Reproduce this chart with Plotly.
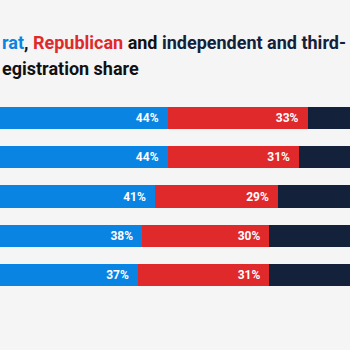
import plotly.graph_objects as go

rows = ["2020", "2016", "2012", "2008", "2004"]
dem = [44, 44, 41, 38, 37]
rep = [33, 31, 29, 30, 31]
ind = [23, 25, 30, 32, 32]

BLUE = "#0a84e3"
RED = "#e0292b"
NAVY = "#13213a"
BG = "#f5f5f5"

fig = go.Figure()
for name, vals, col, labelled in [("Democrat", dem, BLUE, True), ("Republican", rep, RED, True),
                                  ("Independent and third-party", ind, NAVY, False)]:
    fig.add_trace(go.Bar(
        y=rows, x=vals, orientation="h", name=name,
        marker=dict(color=col, line=dict(width=0)),
        width=0.56, hoverinfo="skip",
        text=[f"<b>{v}%</b>\u2002" for v in vals] if labelled else None,
        textposition="inside" if labelled else "none",
        insidetextanchor="end", textangle=0,
        constraintext="none",
        insidetextfont=dict(family="Roboto", size=12, color="white"),
    ))

title1 = (f"<span style='color:{BLUE}'>rat</span>, "
          f"<span style='color:{RED}'>Republican</span> and "
          f"<span style='color:{NAVY}'>independent and third-</span>")
title2 = "egistration share"

plot_top, plot_bot = 98, 295.25
def py2paper(py):
    return (plot_bot - py) / (plot_bot - plot_top)

annotations = [
    dict(x=0, y=py2paper(42), xref="paper", yref="paper", text=f"<b>{title1}</b>",
         xanchor="left", yanchor="middle", showarrow=False,
         font=dict(family="Roboto", size=18, color="#111111")),
    dict(x=0, y=py2paper(68), xref="paper", yref="paper", text=f"<b>{title2}</b>",
         xanchor="left", yanchor="middle", showarrow=False,
         font=dict(family="Roboto", size=18, color="#111111")),
]

axis_off = dict(showticklabels=False, showgrid=False, zeroline=False, showline=False, ticks="", fixedrange=True)
fig.update_layout(
    barmode="stack", width=350, height=350,
    margin=dict(l=0, r=0, t=98, b=55), showlegend=False,
    paper_bgcolor=BG, plot_bgcolor=BG,
    annotations=annotations,
    xaxis=dict(range=[4.48, 87.0], **axis_off),
    yaxis=dict(type="category", range=[4.5, -0.5], autorange=False, **axis_off),
)
fig.write_html("out.html", config={"displayModeBar": False})
